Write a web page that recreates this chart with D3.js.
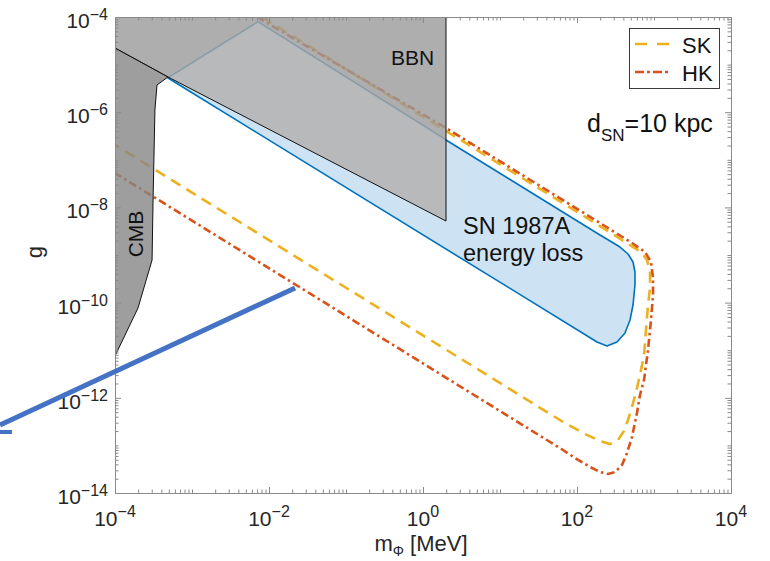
<!DOCTYPE html>
<html><head><meta charset="utf-8">
<script src="https://cdn.jsdelivr.net/npm/d3@7"></script>
<style>
html,body{margin:0;padding:0;background:#fff;}
svg{display:block;font-family:"Liberation Sans",Arial,Helvetica,sans-serif;}
</style>
</head><body>
<svg id="c" width="770" height="561"></svg>
<script>
// ---------------- data ----------------
const xMajorTicks = [1e-4, 1e-2, 1e0, 1e2, 1e4];
const xTickExp = ["\u22124", "\u22122", "0", "2", "4"];
const yMajorTicks = [1e-14, 1e-12, 1e-10, 1e-8, 1e-6, 1e-4];
const yTickExp = ["\u221214", "\u221212", "\u221210", "\u22128", "\u22126", "\u22124"];

// SN 1987A energy-loss excluded region [m (MeV), g]
const snRegion = [
  [4.88e-4, 5.23e-6], [7.20e-3, 7.85e-5], [1.99, 2.61e-7], [199, 2.63e-9],
  [362, 1.47e-9], [460, 1.05e-9], [534, 7.13e-10], [566, 4.40e-10],
  [566, 2.34e-10], [534, 8.9e-11], [488, 4.31e-11], [420, 2.30e-11],
  [331, 1.49e-11], [245, 1.22e-11], [182, 1.49e-11]
];
// Super-Kamiokande sensitivity contour
const skCurve = [
  [8.11e-3, 1e-4], [1.99, 4.03e-7], [199, 4.06e-9], [488, 1.62e-9],
  [678, 1.16e-9], [811, 7.85e-10], [888, 4.40e-10], [888, 2.03e-10],
  [836, 8.9e-11], [787, 2.66e-11], [742, 7.92e-12], [658, 3.01e-12],
  [584, 1.32e-12], [518, 6.41e-13], [460, 3.42e-13], [408, 2.01e-13],
  [341, 1.30e-13], [268, 1.07e-13], [199, 1.24e-13], [127, 1.73e-13],
  [65.8, 3.11e-13], [1e-4, 2.05e-7]
];
// Hyper-Kamiokande sensitivity contour
const hkCurve = [
  [6.99e-3, 1e-4], [1.99, 4.66e-7], [199, 4.70e-9], [518, 1.79e-9],
  [764, 1.16e-9], [914, 7.13e-10], [971, 3.29e-10], [971, 1.45e-10],
  [914, 4.31e-11], [836, 1.01e-11], [742, 2.37e-12], [658, 1.15e-12],
  [601, 4.80e-13], [518, 1.50e-13], [446, 6.92e-14], [384, 3.87e-14],
  [312, 2.76e-14], [253, 2.51e-14], [199, 2.76e-14], [148, 3.52e-14],
  [94.2, 5.43e-14], [65.8, 8.0e-14], [1e-4, 5.28e-8]
];
// BBN excluded region
const bbnRegion = [
  [1e-5, 1e-3], [1.99, 1e-3], [1.99, 5.17e-9], [4.88e-4, 5.49e-6],
  [1e-4, 2.23e-5], [1e-5, 2.23e-5]
];
// CMB excluded region
const cmbRegion = [
  [1e-5, 2.23e-5], [1e-4, 2.23e-5], [4.88e-4, 5.49e-6], [3.51e-4, 3.73e-6],
  [3.30e-4, 1.11e-6], [3.12e-4, 1.43e-8], [3.03e-4, 7.85e-10],
  [1.99e-4, 7.7e-11], [1e-4, 7.55e-12], [1e-5, 7.55e-12]
];
// overlay annotation stroke (in data coordinates)
const annotLine = [[2.18e-2, 2.03e-10], [3.21e-6, 2.69e-13]];
const annotStub = [[3.21e-6, 1.91e-13], [4.6e-6, 1.91e-13]];

const legendItems = ["SK", "HK"];

// ---------------- layout ----------------
const L = 115, R = 731, T = 17, B = 493;
const svg = d3.select("#c");
const x = d3.scaleLog().domain([1e-4, 1e4]).range([L, R]);
const y = d3.scaleLog().domain([1e-14, 1e-4]).range([B, T]);
const line = d3.line().x(d => x(d[0])).y(d => y(d[1]));
const closed = pts => line(pts) + "Z";

const COL_SK = "#EDB120", COL_HK = "#D95319", COL_SN = "#0072BD", FILL_SN = "#cde2f2";

const defs = svg.append("defs");
defs.append("clipPath").attr("id", "plotclip")
  .append("rect").attr("x", L).attr("y", T).attr("width", R - L).attr("height", B - T);
defs.append("clipPath").attr("id", "bbnclip")
  .append("path").attr("d", closed(bbnRegion));

const g = svg.append("g").attr("clip-path", "url(#plotclip)");

// SN region fill + outline
g.append("path").attr("d", closed(snRegion)).attr("fill", FILL_SN).attr("stroke", "none");
g.append("path").attr("d", closed(snRegion)).attr("fill", "none")
  .attr("stroke", COL_SN).attr("stroke-width", 1.6).attr("stroke-linejoin", "round");

// SK / HK
g.append("path").attr("d", line(skCurve)).attr("fill", "none").attr("stroke", COL_SK)
  .attr("stroke-width", 2.6).attr("stroke-dasharray", "11,7");
g.append("path").attr("d", line(hkCurve)).attr("fill", "none").attr("stroke", COL_HK)
  .attr("stroke-width", 2.6).attr("stroke-dasharray", "8,3.5,2.5,3.5");

// BBN
g.append("path").attr("d", closed(bbnRegion)).attr("fill", "#9a9a9a").attr("fill-opacity", 0.8)
  .attr("stroke", "none");
// lighter neutral tint where the SN region lies beneath BBN
g.append("g").attr("clip-path", "url(#bbnclip)")
  .append("path").attr("d", closed(snRegion)).attr("fill", "#cfcfcf").attr("fill-opacity", 0.45)
  .attr("stroke", "none");
g.append("path").attr("d", closed(bbnRegion)).attr("fill", "none")
  .attr("stroke", "#111").attr("stroke-width", 1);

// CMB
g.append("path").attr("d", closed(cmbRegion)).attr("fill", "#868686").attr("fill-opacity", 0.8)
  .attr("stroke", "#111").attr("stroke-width", 1);

// ---------------- axes ----------------
const minor = [];
for (let n = -4; n < 4; n++) for (let k = 1; k < 10; k++) {
  const v = k * Math.pow(10, n);
  if (!xMajorTicks.some(t => Math.abs(Math.log10(t) - Math.log10(v)) < 1e-9)) minor.push(v);
}
const minorY = [];
for (let n = -14; n < -4; n++) for (let k = 1; k < 10; k++) {
  const v = k * Math.pow(10, n);
  if (!yMajorTicks.some(t => Math.abs(Math.log10(t) - Math.log10(v)) < 1e-9)) minorY.push(v);
}
const AX = "#8a8a8a";
function styleAxis(sel) {
  sel.selectAll("path.domain").attr("stroke", AX).attr("stroke-width", 1);
  sel.selectAll(".tick line").attr("stroke", AX).attr("stroke-width", 1);
  sel.selectAll(".tick text").remove();
}
const axes = [
  [d3.axisBottom(x), `translate(0,${B})`, xMajorTicks, minor],
  [d3.axisTop(x), `translate(0,${T})`, xMajorTicks, minor],
  [d3.axisLeft(y), `translate(${L},0)`, yMajorTicks, minorY],
  [d3.axisRight(y), `translate(${R},0)`, yMajorTicks, minorY]
];
axes.forEach(([ax, tr, maj, mnr]) => {
  const a1 = svg.append("g").attr("transform", tr)
    .call(ax.tickValues(maj).tickSizeInner(-6).tickSizeOuter(0).tickFormat(() => ""));
  styleAxis(a1);
  const a2 = svg.append("g").attr("transform", tr)
    .call(ax.tickValues(mnr).tickSizeInner(-3.5).tickSizeOuter(0).tickFormat(() => ""));
  styleAxis(a2);
});

const TXT = "#262626";
// x tick labels
xMajorTicks.forEach((v, i) => {
  const t = svg.append("text").attr("x", x(v)).attr("y", B + 33).attr("text-anchor", "middle")
    .attr("fill", TXT).attr("font-size", 21);
  t.append("tspan").text("10");
  t.append("tspan").attr("dy", -9).attr("font-size", 16).text(xTickExp[i]);
});
// y tick labels
yMajorTicks.forEach((v, i) => {
  const t = svg.append("text").attr("x", 108).attr("y", y(v) + 11).attr("text-anchor", "end")
    .attr("fill", TXT).attr("font-size", 21);
  t.append("tspan").text("10");
  t.append("tspan").attr("dy", -8).attr("font-size", 16).text(yTickExp[i]);
});

// axis titles
const xt = svg.append("text").attr("x", 421).attr("y", 551).attr("text-anchor", "middle")
  .attr("fill", TXT).attr("font-size", 22);
xt.append("tspan").text("m");
xt.append("tspan").attr("dy", 5).attr("font-size", 14).text("\u03A6");
xt.append("tspan").attr("dy", -5).text(" [MeV]");
svg.append("text").attr("transform", "translate(42,252) rotate(-90)").attr("text-anchor", "middle")
  .attr("fill", TXT).attr("font-size", 22).text("g");

// region labels
svg.append("text").attr("x", 391).attr("y", 65).attr("fill", "#111").attr("font-size", 21).text("BBN");
svg.append("text").attr("transform", "translate(143,234) rotate(-90)").attr("text-anchor", "middle")
  .attr("fill", "#111").attr("font-size", 21).text("CMB");
svg.append("text").attr("x", 463).attr("y", 234).attr("fill", "#111").attr("font-size", 23.5).text("SN 1987A");
svg.append("text").attr("x", 463).attr("y", 261).attr("fill", "#111").attr("font-size", 23.5).text("energy loss");

const dsn = svg.append("text").attr("x", 587).attr("y", 132).attr("fill", "#111").attr("font-size", 25);
dsn.append("tspan").text("d");
dsn.append("tspan").attr("dy", 9).attr("font-size", 17).text("SN");
dsn.append("tspan").attr("dy", -9).text("=10 kpc");

// legend
const lg = svg.append("g");
lg.append("rect").attr("x", 629.5).attr("y", 28.5).attr("width", 90).attr("height", 60)
  .attr("fill", "#fff").attr("stroke", "#262626").attr("stroke-width", 0.9);
const legStyles = [
  {c: COL_SK, dash: "12,10"},
  {c: COL_HK, dash: "9,3,3,3"}
];
legendItems.forEach((name, i) => {
  const yy = 44 + i * 28;
  lg.append("line").attr("x1", 635).attr("x2", 670).attr("y1", yy).attr("y2", yy)
    .attr("stroke", legStyles[i].c).attr("stroke-width", 2.6).attr("stroke-dasharray", legStyles[i].dash);
  lg.append("text").attr("x", 682).attr("y", yy + 9).attr("fill", "#111").attr("font-size", 22).text(name);
});

// overlay annotation
svg.append("path").attr("d", line(annotLine)).attr("stroke", "#4472C4").attr("stroke-width", 5)
  .attr("fill", "none");
svg.append("path").attr("d", line(annotStub)).attr("stroke", "#4472C4").attr("stroke-width", 4)
  .attr("fill", "none");
</script>
</body></html>
